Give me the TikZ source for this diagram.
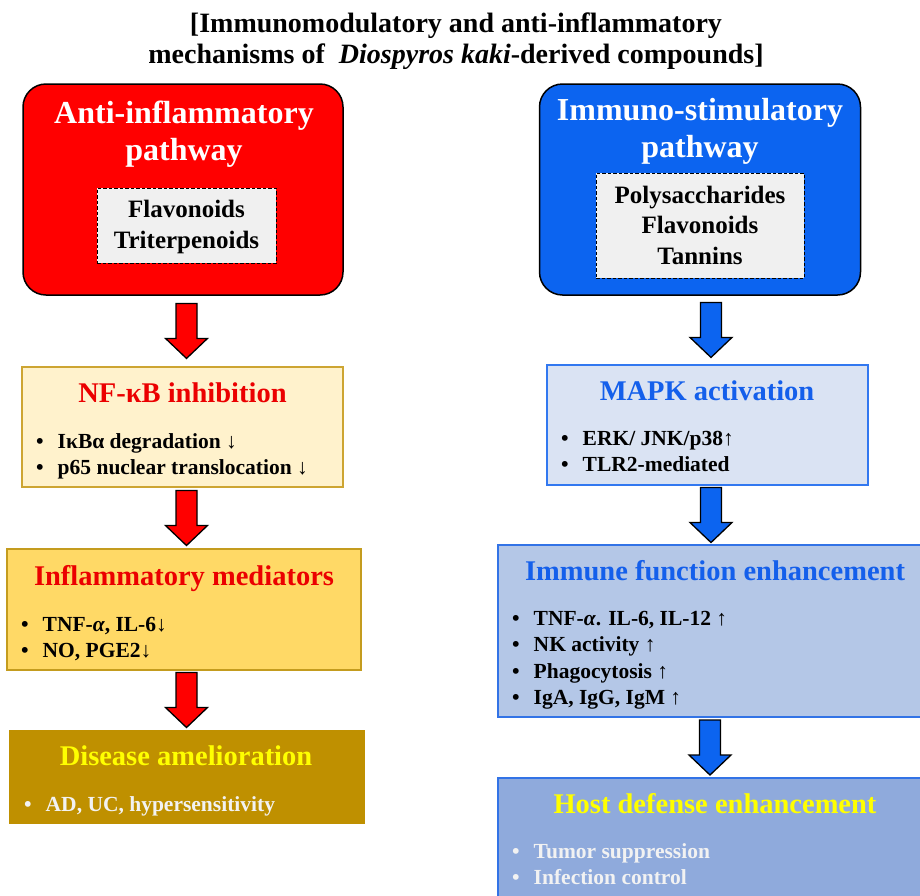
\documentclass[tikz,border=0pt]{standalone}
\usepackage{fontspec}
\setmainfont{Liberation Serif}
\usetikzlibrary{calc}
\definecolor{redfill}{RGB}{255,0,0}
\definecolor{bluefill}{RGB}{12,100,240}
\definecolor{graybox}{RGB}{240,240,240}
\definecolor{nffill}{RGB}{255,242,204}
\definecolor{nfdraw}{RGB}{205,165,50}
\definecolor{inflfill}{RGB}{255,217,102}
\definecolor{infldraw}{RGB}{196,156,30}
\definecolor{disfill}{RGB}{191,144,0}
\definecolor{mapkfill}{RGB}{218,227,243}
\definecolor{mapkdraw}{RGB}{50,120,240}
\definecolor{immfill}{RGB}{180,199,231}
\definecolor{immdraw}{RGB}{50,115,230}
\definecolor{hostfill}{RGB}{143,170,220}
\definecolor{titlered}{RGB}{235,0,0}
\definecolor{titleblue}{RGB}{20,95,235}
\definecolor{ylw}{RGB}{255,255,0}
\definecolor{whitish}{RGB}{242,242,242}
\newcommand{\fatarr}[4]{%
 \draw[fill=#4, draw=black, line width=1.3pt, line join=miter]
 let \p1=($(#1.south)!0.5!(#2.north)$), \p3=(#3,0) in
 (\x3-10.5,\y1+27.5) -- (\x3+10.5,\y1+27.5) -- (\x3+10.5,\y1-7.5) -- (\x3+21,\y1-7.5)
 -- (\x3,\y1-27.5) -- (\x3-21,\y1-7.5) -- (\x3-10.5,\y1-7.5) -- cycle;}
\newcommand{\blist}[1]{\begin{tabular}[t]{@{}l@{\hspace{14pt}}l@{}}#1\end{tabular}}
\begin{document}
\begin{tikzpicture}[x=1pt,y=-1pt,
  pathbox/.style={draw=black, line width=1.5pt, rounded corners=23pt},
  subbox/.style={draw=black, line width=0.9pt, fill=graybox, dash pattern=on 3.5pt off 2pt},
  flowbox/.style={line width=1.8pt},
  ttl/.style={anchor=base, inner sep=0pt, font=\fontsize{28.5}{32}\selectfont\bfseries},
  items/.style={anchor=base west, inner sep=0pt, font=\fontsize{21.5}{26.5}\selectfont\bfseries},
  ptitle/.style={anchor=base, inner sep=0pt, align=center, text=white, font=\fontsize{32}{37}\selectfont\bfseries},
  subtext/.style={anchor=base, inner sep=0pt, align=center, font=\fontsize{25}{30.5}\selectfont\bfseries}]
\useasboundingbox (0,0) rectangle (920,895);
\clip (0,0) rectangle (920,895);
\fill[white] (0,0) rectangle (920,895);

% main title (base anchor = last line)
\node[anchor=base, inner sep=0pt, align=center, font=\fontsize{28}{30.5}\selectfont\bfseries] (title) at (456,63)
 {[Immunomodulatory and anti-inflammatory\\mechanisms of \ \textit{Diospyros kaki}-derived compounds]};

% ---------- left column ----------
\node[pathbox, fill=redfill, minimum width=320pt, minimum height=211pt] (red) at (183,189.5) {};
\node[ptitle] (redt) at (184,160) {Anti-inflammatory\\pathway};
\node[subbox, minimum width=179pt, minimum height=75pt] (redsub) at (186.5,225.5) {};
\node[subtext] (redsubt) at (186.5,248) {Flavonoids\\Triterpenoids};

\node[flowbox, fill=nffill, draw=nfdraw, minimum width=321pt, minimum height=120pt] (nf) at (182.5,427) {};
\node[ttl, text=titlered] (nft) at (182.5,402) {NF-κB inhibition};
\node[items] (nfl) at (36,448) {\blist{• & IκBα degradation ↓\\ • & p65 nuclear translocation ↓}};

\node[flowbox, fill=inflfill, draw=infldraw, minimum width=354pt, minimum height=121pt] (infl) at (184,609.5) {};
\node[ttl, text=titlered] (inflt) at (184,585) {Inflammatory mediators};
\node[items] (infll) at (21,631) {\blist{• & TNF-\textit{α}, IL-6↓\\ • & NO, PGE2↓}};

\node[flowbox, fill=disfill, draw=none, minimum width=356pt, minimum height=94pt] (dis) at (187,777) {};
\node[ttl, text=ylw] (dist) at (186,765) {Disease amelioration};
\node[items, text=whitish] (disl) at (24,811) {\blist{• & AD, UC, hypersensitivity}};

% ---------- right column ----------
\node[pathbox, fill=bluefill, minimum width=321pt, minimum height=211pt] (blue) at (700,189.5) {};
\node[ptitle] (bluet) at (700,157) {Immuno-stimulatory\\pathway};
\node[subbox, minimum width=208pt, minimum height=105pt] (bluesub) at (700,225.5) {};
\node[subtext] (bluesubt) at (700,264) {Polysaccharides\\Flavonoids\\Tannins};

\node[flowbox, fill=mapkfill, draw=mapkdraw, minimum width=321pt, minimum height=120pt] (mapk) at (707.5,425) {};
\node[ttl, text=titleblue] (mapkt) at (707,400) {MAPK activation};
\node[items] (mapkl) at (561,445) {\blist{• & ERK/ JNK/p38↑\\ • & TLR2-mediated}};

\node[flowbox, fill=immfill, draw=immdraw, minimum width=430pt, minimum height=172pt] (imm) at (713,631) {};
\node[ttl, text=titleblue] (immt) at (715,580) {Immune function enhancement};
\node[items] (imml) at (512,625) {\blist{• & TNF-\textit{α}. IL-6, IL-12 ↑\\ • & NK activity ↑\\ • & Phagocytosis ↑\\ • & IgA, IgG, IgM ↑}};

\node[flowbox, fill=hostfill, draw=immdraw, minimum width=430pt, minimum height=130pt] (host) at (713,843) {};
\node[ttl, text=ylw] (hostt) at (715,813) {Host defense enhancement};
\node[items, text=whitish] (hostl) at (512,858) {\blist{• & Tumor suppression\\ • & Infection control}};

% ---------- block arrows ----------
\fatarr{red}{nf}{186.5}{redfill}
\fatarr{nf}{infl}{186.5}{redfill}
\fatarr{infl}{dis}{186.5}{redfill}
\fatarr{blue}{mapk}{711}{bluefill}
\fatarr{mapk}{imm}{711}{bluefill}
\fatarr{imm}{host}{710}{bluefill}
\end{tikzpicture}
\end{document}
